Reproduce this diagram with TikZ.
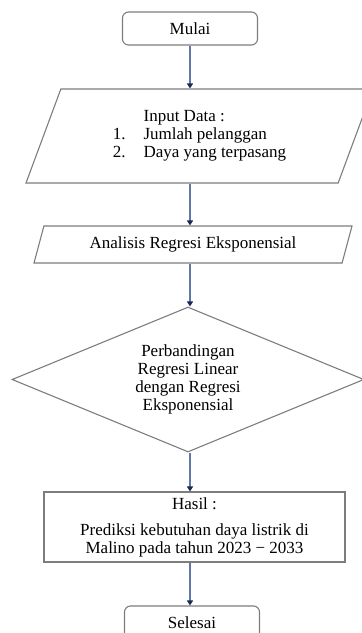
\documentclass[tikz,border=0pt]{standalone}
\usepackage{fontspec}
\setmainfont{Liberation Serif}
\usetikzlibrary{shapes.geometric,arrows.meta}

\definecolor{boxgray}{RGB}{125,125,125}
\definecolor{flowblue}{RGB}{95,120,165}
\definecolor{tipnavy}{RGB}{25,40,85}

\tikzset{
  terminal/.style={draw=boxgray, line width=1.1pt, rounded corners=6pt, minimum width=135pt, minimum height=33pt, inner sep=0pt},
  datain/.style={draw=boxgray, line width=1.1pt, trapezium, trapezium stretches body, inner sep=2pt},
  decision/.style={draw=boxgray, line width=1.1pt, diamond, shape aspect=2.4, minimum width=352pt, minimum height=145pt, inner sep=0pt, align=center},
  process/.style={draw=boxgray, line width=1.1pt, minimum width=301pt, minimum height=70pt, inner sep=0pt, align=center},
  flow/.style={flowblue, line width=1.6pt, -{Triangle[length=5pt,width=6pt,color=tipnavy]}}
}

\begin{document}
\begin{tikzpicture}[x=1pt,y=-1pt,font=\fontsize{17}{18}\selectfont]
  \useasboundingbox (0,0) rectangle (362,633);
  \node[terminal] (mulai) at (190,28.5) {Mulai};
  \node[datain, minimum width=347pt, minimum height=94pt, trapezium left angle=59, trapezium right angle=121] (input) at (199.5,136)
    {\begin{tabular}{@{}l@{\hspace{18pt}}l@{}} & Input Data :\\ 1. & Jumlah pelanggan\\ 2. & Daya yang terpasang\end{tabular}};
  \node[datain, minimum width=318pt, minimum height=37pt, trapezium left angle=63, trapezium right angle=117] (analisis) at (193,244.5)
    {Analisis Regresi Eksponensial};
  \node[decision] (banding) at (188,379.5) {Perbandingan\\Regresi Linear\\dengan Regresi\\Eksponensial};
  \node[process] (hasil) at (194.5,527) {Hasil :\\[8pt]Prediksi kebutuhan daya listrik di\\Malino pada tahun 2023 − 2033};
  \node[terminal] (selesai) at (192,622.5) {Selesai};
  \foreach \a/\b in {mulai/input, input/analisis, analisis/banding, banding/hasil, hasil/selesai} {
    \draw[flow] (\a.south -| mulai) -- (\b.north -| mulai);
  }
\end{tikzpicture}
\end{document}
